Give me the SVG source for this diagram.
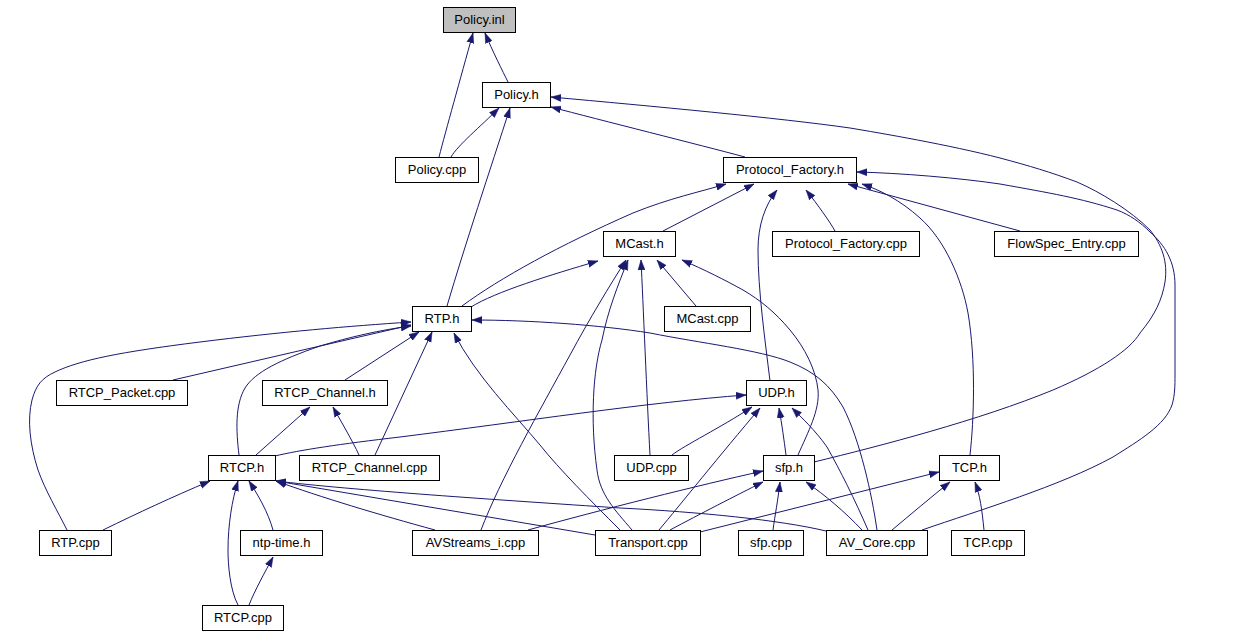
<svg xmlns="http://www.w3.org/2000/svg" width="1255" height="635" viewBox="0 0 1255 635">
<style>
.n rect{fill:#ffffff;stroke:#000000;stroke-width:1}
.n text{font-family:"Liberation Sans",Arial,sans-serif;font-size:13px;fill:#000000;text-anchor:middle}
#edges path{fill:none;stroke:#191970;stroke-width:1;marker-end:url(#ah)}
</style>
<defs>
<marker id="ah" markerUnits="userSpaceOnUse" markerWidth="10" markerHeight="8" refX="10" refY="3.5" orient="auto" viewBox="0 0 10 7">
<path d="M0,0 L10,3.5 L0,7 z" fill="#191970" stroke="#191970" stroke-width="0.5"/>
</marker>
</defs>
<rect width="1255" height="635" fill="#ffffff"/>
<g id="edges">
<path d="M439,157 C446,130 460,80 473,33"/>
<path d="M508,82 C503,72 492,50 485,33"/>
<path d="M451,157 C458,145 480,127 499,108"/>
<path d="M447,306 C465,245 490,170 510,108"/>
<path d="M745,157 C700,145 600,120 551,107"/>
<path d="M814,462 C880,446 980,420 1053,390 C1100,370 1130,350 1140,333 C1155,315 1162,300 1165,282 C1168,262 1162,245 1150,230 C1130,210 1100,192 1077,182 C1050,172 1030,166 1000,158 C950,145 880,133 850,128 C780,118 650,106 551,97"/>
<path d="M922,530 C980,510 1060,486 1113,457 C1140,440 1165,425 1172,405 C1175,395 1175,385 1175,375 L1175,285 C1175,262 1165,245 1150,232 C1140,222 1130,215 1117,210 C1080,198 1050,193 1000,184 C960,178 900,173 857,172"/>
<path d="M462,306 C500,278 560,245 633,213 C670,198 700,192 726,184"/>
<path d="M663,231 L754,184"/>
<path d="M770,381 C765,340 758,290 758,250 C758,225 765,205 777,190"/>
<path d="M835,231 C830,222 818,205 806,190"/>
<path d="M1020,231 L848,184"/>
<path d="M970,455 C974,420 976,360 968,313 C962,280 945,240 920,218 C900,200 880,190 862,184"/>
<path d="M471,307 C495,292 550,275 598,261"/>
<path d="M481,530 C500,480 540,410 570,355 C590,318 610,285 626,260"/>
<path d="M632,530 C615,510 600,495 597,470 C590,420 593,370 602,340 C608,310 618,285 628,260"/>
<path d="M650,455 C647,400 643,300 641,260"/>
<path d="M696,306 L657,260"/>
<path d="M798,455 C808,432 820,410 818,390 C816,370 805,348 790,330 C775,312 760,300 743,290 C725,280 705,270 682,260"/>
<path d="M173,380 L411,325"/>
<path d="M67,530 C58,512 45,490 38,470 C30,445 27,420 32,400 C36,385 42,378 55,372 C80,360 120,352 200,342 C280,332 350,326 411,322"/>
<path d="M239,455 C236,430 235,405 245,388 C255,372 280,360 320,346 C350,337 380,330 411,326"/>
<path d="M345,380 L419,332"/>
<path d="M375,455 L432,332"/>
<path d="M620,530 C590,500 560,470 540,445 C515,415 475,375 454,333"/>
<path d="M877,530 C872,495 860,440 843,407 C830,385 815,372 790,362 C760,350 700,343 650,333 C600,325 530,320 472,320"/>
<path d="M256,455 L310,407"/>
<path d="M359,455 C352,440 343,425 333,407"/>
<path d="M275,456 C300,450 340,444 400,437 C520,422 650,402 746,395"/>
<path d="M672,455 C685,445 720,428 752,407"/>
<path d="M659,530 C680,505 720,455 760,408"/>
<path d="M786,455 C784,440 782,425 779,408"/>
<path d="M868,530 C855,500 840,470 827,447 C815,430 802,418 792,408"/>
<path d="M103,530 C140,512 170,498 210,481"/>
<path d="M238,605 C230,590 228,565 228,550 C228,525 232,500 238,481"/>
<path d="M273,530 C268,512 258,495 249,481"/>
<path d="M435,530 C380,515 320,497 276,481"/>
<path d="M595,535 L276,481"/>
<path d="M826,531 C780,520 700,512 620,508 C500,500 350,490 276,481"/>
<path d="M249,605 C255,590 265,572 273,557"/>
<path d="M528,530 C600,510 700,485 763,471"/>
<path d="M670,530 C700,514 735,496 763,482"/>
<path d="M773,530 C775,515 778,500 780,482"/>
<path d="M862,530 C845,512 825,495 806,482"/>
<path d="M700,532 L939,472"/>
<path d="M892,530 C910,515 930,498 950,482"/>
<path d="M984,530 C982,510 980,495 975,482"/>
</g>
<g id="Policy_inl" class="n"><rect x="443.5" y="7.5" width="72" height="25" style="fill:#bfbfbf"/><text x="479.5" y="24">Policy.inl</text></g>
<g id="Policy_h" class="n"><rect x="482.5" y="82.5" width="68" height="25"/><text x="516.5" y="99">Policy.h</text></g>
<g id="Policy_cpp" class="n"><rect x="395.5" y="157.5" width="83" height="25"/><text x="437" y="174">Policy.cpp</text></g>
<g id="Protocol_Factory_h" class="n"><rect x="723.5" y="157.5" width="133" height="25"/><text x="790" y="174">Protocol_Factory.h</text></g>
<g id="MCast_h" class="n"><rect x="603.5" y="231.5" width="72" height="25"/><text x="639.5" y="248">MCast.h</text></g>
<g id="Protocol_Factory_cpp" class="n"><rect x="772.5" y="231.5" width="147" height="25"/><text x="846" y="248">Protocol_Factory.cpp</text></g>
<g id="FlowSpec_Entry_cpp" class="n"><rect x="994.5" y="231.5" width="144" height="25"/><text x="1066.5" y="248">FlowSpec_Entry.cpp</text></g>
<g id="RTP_h" class="n"><rect x="412.5" y="306.5" width="59" height="25"/><text x="442" y="323">RTP.h</text></g>
<g id="MCast_cpp" class="n"><rect x="664.5" y="306.5" width="86" height="25"/><text x="707.5" y="323">MCast.cpp</text></g>
<g id="RTCP_Packet_cpp" class="n"><rect x="56.5" y="380.5" width="131" height="25"/><text x="122" y="397">RTCP_Packet.cpp</text></g>
<g id="RTCP_Channel_h" class="n"><rect x="262.5" y="380.5" width="125" height="25"/><text x="325" y="397">RTCP_Channel.h</text></g>
<g id="UDP_h" class="n"><rect x="746.5" y="380.5" width="60" height="25"/><text x="776.5" y="397">UDP.h</text></g>
<g id="RTCP_h" class="n"><rect x="208.5" y="455.5" width="67" height="25"/><text x="242" y="472">RTCP.h</text></g>
<g id="RTCP_Channel_cpp" class="n"><rect x="299.5" y="455.5" width="140" height="25"/><text x="369.5" y="472">RTCP_Channel.cpp</text></g>
<g id="UDP_cpp" class="n"><rect x="614.5" y="455.5" width="74" height="25"/><text x="651.5" y="472">UDP.cpp</text></g>
<g id="sfp_h" class="n"><rect x="763.5" y="455.5" width="51" height="25"/><text x="789" y="472">sfp.h</text></g>
<g id="TCP_h" class="n"><rect x="939.5" y="455.5" width="60" height="25"/><text x="969.5" y="472">TCP.h</text></g>
<g id="RTP_cpp" class="n"><rect x="39.5" y="530.5" width="72" height="25"/><text x="75.5" y="547">RTP.cpp</text></g>
<g id="ntp_time_h" class="n"><rect x="240.5" y="530.5" width="82" height="25"/><text x="281.5" y="547">ntp-time.h</text></g>
<g id="AVStreams_i_cpp" class="n"><rect x="412.5" y="530.5" width="126" height="25"/><text x="475.5" y="547">AVStreams_i.cpp</text></g>
<g id="Transport_cpp" class="n"><rect x="595.5" y="530.5" width="105" height="25"/><text x="648" y="547">Transport.cpp</text></g>
<g id="sfp_cpp" class="n"><rect x="738.5" y="530.5" width="65" height="25"/><text x="771" y="547">sfp.cpp</text></g>
<g id="AV_Core_cpp" class="n"><rect x="826.5" y="530.5" width="101" height="25"/><text x="877" y="547">AV_Core.cpp</text></g>
<g id="TCP_cpp" class="n"><rect x="951.5" y="530.5" width="73" height="25"/><text x="988" y="547">TCP.cpp</text></g>
<g id="RTCP_cpp" class="n"><rect x="202.5" y="605.5" width="81" height="25"/><text x="243" y="622">RTCP.cpp</text></g>
</svg>
